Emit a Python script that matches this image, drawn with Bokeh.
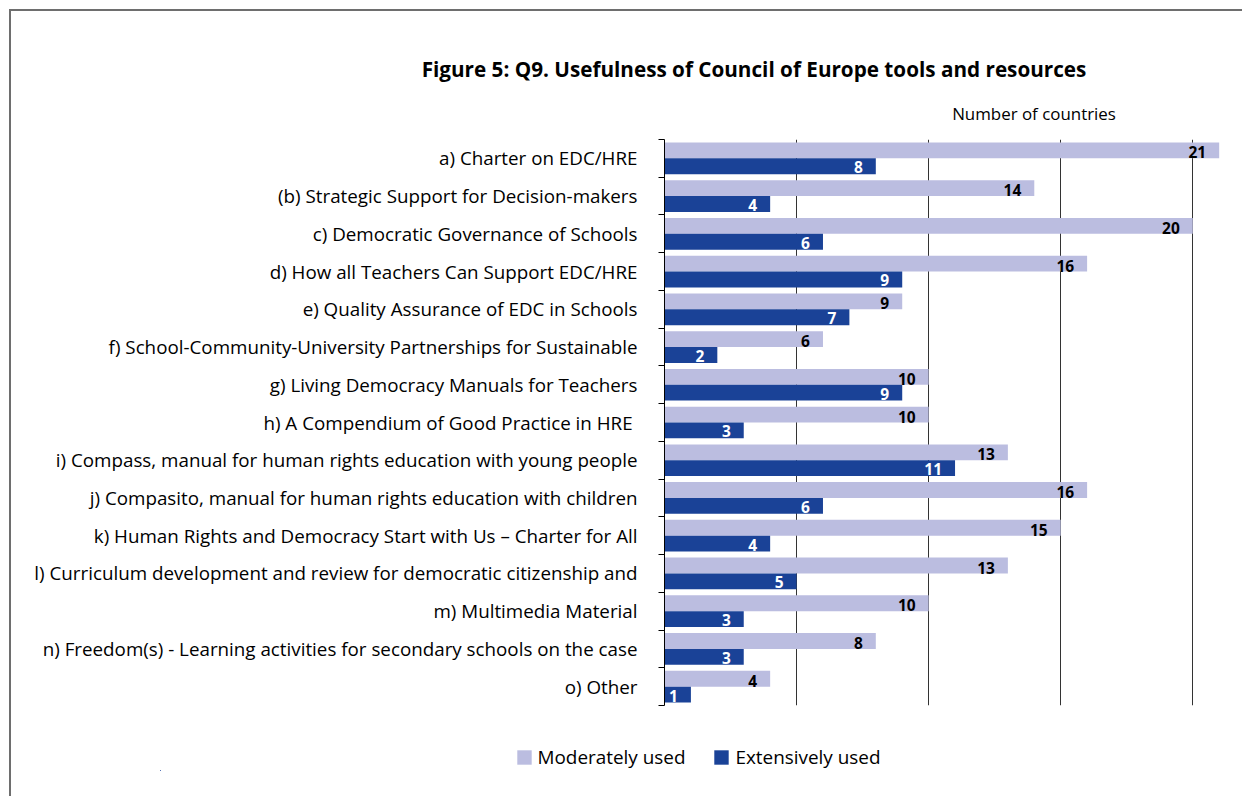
from bokeh.plotting import figure
from bokeh.models import (Range1d, FixedTicker, Legend, LegendItem,
                          ColumnDataSource, LabelSet, Div)
from bokeh.layouts import column
from bokeh.core.properties import value
from bokeh.embed import file_html
from bokeh.resources import INLINE

categories = [
    "a) Charter on EDC/HRE",
    "(b) Strategic Support for Decision-makers",
    "c) Democratic Governance of Schools",
    "d) How all Teachers Can Support EDC/HRE",
    "e) Quality Assurance of EDC in Schools",
    "f) School-Community-University Partnerships for Sustainable",
    "g) Living Democracy Manuals for Teachers",
    "h) A Compendium of Good Practice in HRE ",
    "i) Compass, manual for human rights education with young people",
    "j) Compasito, manual for human rights education with children",
    "k) Human Rights and Democracy Start with Us \u2013 Charter for All",
    "l) Curriculum development and review for democratic citizenship and",
    "m) Multimedia Material",
    "n) Freedom(s) - Learning activities for secondary schools on the case",
    "o) Other",
]
moderately = [21, 14, 20, 16, 9, 6, 10, 10, 13, 16, 15, 13, 10, 8, 4]
extensively = [8, 4, 6, 9, 7, 2, 9, 3, 11, 6, 4, 5, 3, 3, 1]

title_text = "Figure 5: Q9. Usefulness of Council of Europe tools and resources"
unit_text = "Number of countries"
series_names = ["Moderately used", "Extensively used"]

LIGHT = "#bbbde0"
DARK = "#1a4297"
FONT = "Open Sans"
W = 1231

n = len(categories)
centers = [n - i - 0.5 for i in range(n)]
bh = 0.42

src = ColumnDataSource(dict(
    y=centers,
    y_mod=[c + bh / 2 for c in centers],
    y_ext=[c - bh / 2 for c in centers],
    mod=moderately,
    ext=extensively,
    mod_s=[str(v) for v in moderately],
    ext_s=[str(v) for v in extensively],
))

# ---- header (title + unit) ----
header_html = (
    '<div style="position:relative;width:%dpx;height:120px;">' % W +
    '<div style="position:absolute;left:393px;top:45px;width:700px;'
    'text-align:center;white-space:nowrap;font-family:\'Open Sans\';'
    'font-weight:bold;font-size:20.7px;line-height:26px;color:#000;">'
    + title_text + '</div>'
    '<div style="position:absolute;left:923px;top:92px;width:200px;'
    'text-align:center;white-space:nowrap;font-family:\'Open Sans\';'
    'font-size:16.9px;line-height:22px;color:#000;">'
    + unit_text + '</div></div>'
)
header = Div(text=header_html, width=W, height=120, margin=0)

# ---- main chart ----
p = figure(width=W, height=579, output_backend="svg", toolbar_location=None,
           x_range=Range1d(0, 21.05), y_range=Range1d(0, n),
           min_border_left=653, min_border_top=8, min_border_bottom=5,
           min_border_right=W - 1209, margin=0)
p.frame_align = False
p.outline_line_color = None
p.background_fill_color = "white"
p.border_fill_color = "white"

r_mod = p.hbar(y="y_mod", right="mod", left=0, height=bh, source=src,
               fill_color=LIGHT, line_color=None)
r_ext = p.hbar(y="y_ext", right="ext", left=0, height=bh, source=src,
               fill_color=DARK, line_color=None)

p.add_layout(LabelSet(x="mod", y="y_mod", text="mod_s", source=src,
                      x_offset=-13, y_offset=-2, text_align="right",
                      text_baseline="middle", text_font=value(FONT),
                      text_font_style="bold", text_font_size="15.5px",
                      text_color="black"))
p.add_layout(LabelSet(x="ext", y="y_ext", text="ext_s", source=src,
                      x_offset=-13, y_offset=-1, text_align="right",
                      text_baseline="middle", text_font=value(FONT),
                      text_font_style="bold", text_font_size="15.5px",
                      text_color="white"))

p.xaxis.visible = False
p.xgrid.ticker = FixedTicker(ticks=[5, 10, 15, 20])
p.xgrid.grid_line_color = "#333333"
p.xgrid.grid_line_width = 1
p.ygrid.visible = False

yax = p.yaxis[0]
yax.ticker = FixedTicker(ticks=centers, minor_ticks=list(range(n + 1)))
yax.major_label_overrides = {c: lab for c, lab in zip(centers, categories)}
yax.major_tick_out = 0
yax.major_tick_in = 0
yax.minor_tick_out = 6
yax.minor_tick_in = 0
yax.minor_tick_line_color = "black"
yax.axis_line_color = "black"
yax.major_label_standoff = 21
yax.major_label_text_font = FONT
yax.major_label_text_font_size = "18.8px"
yax.major_label_text_color = "black"

# ---- legend strip (same series; zero-height bars out of view) ----
p2 = figure(width=W, height=86, output_backend="svg", toolbar_location=None,
            x_range=Range1d(500, 501), y_range=Range1d(500, 501),
            min_border_left=149, min_border_right=W - 1224,
            min_border_top=34, min_border_bottom=26, margin=0)
p2.frame_align = False
p2.axis.visible = False
p2.grid.visible = False
p2.outline_line_color = None
p2.background_fill_color = "white"
p2.border_fill_color = "white"
l_mod = p2.hbar(y="y_mod", right="mod", left=0, height=0, source=src,
                fill_color=LIGHT, line_color=None)
l_ext = p2.hbar(y="y_ext", right="ext", left=0, height=0, source=src,
                fill_color=DARK, line_color=None)
legend = Legend(items=[LegendItem(label=series_names[0], renderers=[l_mod]),
                       LegendItem(label=series_names[1], renderers=[l_ext])],
                orientation="horizontal", location="center",
                label_text_font=FONT, label_text_font_size="18.9px",
                label_text_color="black", glyph_width=18, glyph_height=18,
                spacing=27, label_standoff=5, border_line_color=None,
                background_fill_alpha=0, padding=0, margin=0)
p2.add_layout(legend)

layout = column(header, p, p2, spacing=0,
                styles={"border-top": "2px solid #6e6e6e",
                        "border-left": "2px solid #6e6e6e",
                        "margin-left": "9px", "margin-top": "9px"})

open("out.html", "w").write(file_html(layout, INLINE))
